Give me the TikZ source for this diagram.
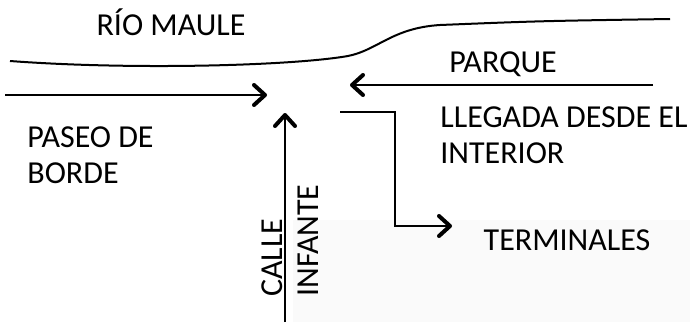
\documentclass[tikz,border=0pt]{standalone}
\usepackage{fontspec}
\setmainfont{Carlito}
\usetikzlibrary{positioning, arrows.meta}

\begin{document}
\begin{tikzpicture}[
    x=0.5pt, y=-0.5pt,
    every node/.style={font=\fontsize{16}{18}\selectfont, inner sep=0pt, align=left},
    flow/.style={line width=1.2pt},
    river/.style={line width=1pt},
    >={Straight Barb[length=5.5pt, width=10pt, line width=2pt, round]}
]
\useasboundingbox (0,0) rectangle (690,322);
% faint paper shade, lower right
\fill[black!2] (293,220) rectangle (690,322);

% river bank
\coordinate (riverW) at (10,61);
\coordinate (riverE) at (670,19);
\draw[river] (riverW) .. controls (130,70) and (290,66) .. (348,56)
    .. controls (378,50) and (392,28) .. (440,25) .. controls (540,21) .. (riverE);

% labels
\node (rio) [anchor=base] at (171,35) {RÍO MAULE};
\node (parque) [anchor=base] at (503,72) {PARQUE};
\node (paseo) [anchor=north west] at (27,126) {PASEO DE\\BORDE};
\node (llegada) [anchor=north west] at (440,106) {LLEGADA DESDE EL\\INTERIOR};
\node (terminales) [anchor=base] at (567,250) {TERMINALES};
\node (calle) [rotate=90, anchor=north west] at (261,297) {CALLE\\INFANTE};

% flows
\coordinate (paseoW) at (5,95);
\coordinate (paseoE) at (267,95);
\coordinate (parqueE) at (653,85);
\coordinate (parqueW) at (350,85);
\coordinate (calleS) at (285,322);
\coordinate (calleN) at (285,113);
\coordinate (llegW) at (340,112);
\coordinate (bend) at (395,170);
\coordinate (termW) at (452,226);
\draw[flow, ->] (paseoW) -- (paseoE);
\draw[flow, ->] (parqueE) -- (parqueW);
\draw[flow, ->] (calleS) -- (calleN);
\draw[flow, ->] (llegW) -| (bend) |- (termW);
\end{tikzpicture}
\end{document}
